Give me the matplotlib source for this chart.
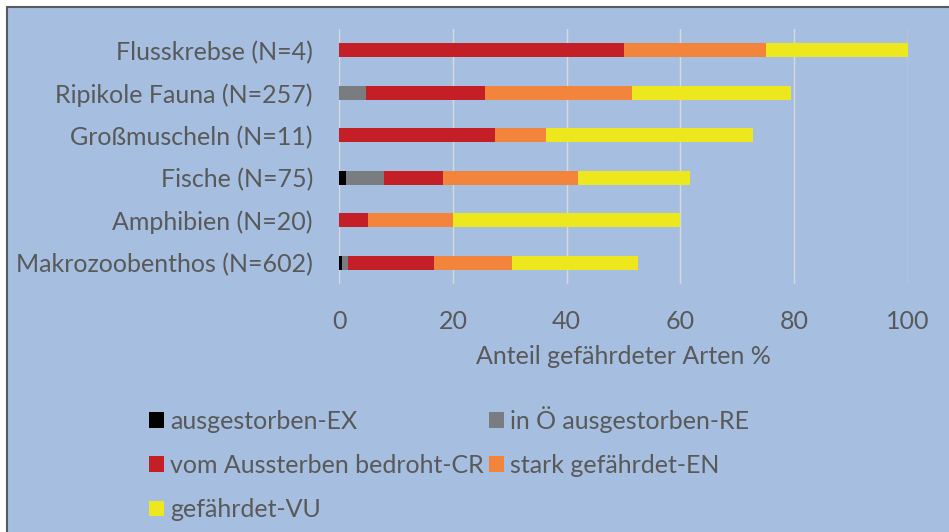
import matplotlib.pyplot as plt
from matplotlib.patches import Rectangle


##################################
# Data (percent of species per category)
##################################
groups = ["Flusskrebse (N=4)", "Ripikole Fauna (N=257)", "Großmuscheln (N=11)",
          "Fische (N=75)", "Amphibien (N=20)", "Makrozoobenthos (N=602)"]
ex = [0, 0, 0, 1.1, 0, 0.5]
re = [0, 4.7, 0, 6.7, 0, 1.1]
cr = [50, 21.0, 27.3, 10.5, 5.0, 15.0]
en = [25, 25.7, 9.1, 23.7, 15.0, 13.7]
vu = [25, 28.0, 36.4, 19.7, 40.0, 22.2]

series = [ex, re, cr, en, vu]
labels = ["ausgestorben-EX", "in Ö ausgestorben-RE", "vom Aussterben bedroht-CR",
          "stark gefährdet-EN", "gefährdet-VU"]
colors = ["#000000", "#7A7D80", "#C41F26", "#F3843C", "#ECE81D"]

bg = "#A6BFE0"
txt = "#595959"
plt.rcParams['font.family'] = ['Lato', 'DejaVu Sans']
fs = 18


##################################
# Figure and frame
##################################
fig = plt.figure(figsize=(9.49, 5.32), dpi=100)
fig.patch.set_facecolor("white")
fig.patches.append(Rectangle((7 / 949, -0.05), 1.1, 1 - 7 / 532 + 0.05,
                             transform=fig.transFigure, facecolor=bg,
                             edgecolor="#5a5a5a", linewidth=1.5, zorder=-10))

ax = fig.add_axes([339.3 / 949, 1 - 284 / 532, 568.5 / 949, 255 / 532])
ax.set_facecolor(bg)

ypos = list(range(len(groups)))
left = [0] * len(groups)
handles = []
for vals, lab, col in zip(series, labels, colors):
    b = ax.barh(ypos, vals, left=left, height=0.32, color=col, label=lab, zorder=3)
    handles.append(b)
    left = [l + v for l, v in zip(left, vals)]

ax.set_xlim(0, 100)
ax.set_ylim(5.5, -0.5)
ax.set_xticks([0, 20, 40, 60, 80, 100])
ax.set_yticks(ypos)
ax.set_yticklabels(groups)
ax.tick_params(axis='both', length=0, labelsize=fs, colors=txt)
ax.tick_params(axis='y', pad=19)
ax.tick_params(axis='x', pad=19)
ax.grid(axis='x', color="#D9D9D9", linewidth=1, zorder=0)
for s in ax.spines.values():
    s.set_visible(False)
ax.set_xlabel("Anteil gefährdeter Arten %", fontsize=fs, color=txt, labelpad=8)


##################################
# Legend (row-major order)
##################################
order = [0, 2, 4, 1, 3]
leg = fig.legend([handles[i] for i in order], [labels[i] for i in order],
                 ncol=2, loc="upper left", bbox_to_anchor=(139 / 949, 1 - 396 / 532),
                 frameon=False, fontsize=fs, labelcolor=txt,
                 handlelength=0.6, handleheight=0.6, handletextpad=0.25,
                 columnspacing=0.2, labelspacing=0.85, borderaxespad=0)

fig.savefig("out.png", dpi=100, facecolor=fig.get_facecolor())
